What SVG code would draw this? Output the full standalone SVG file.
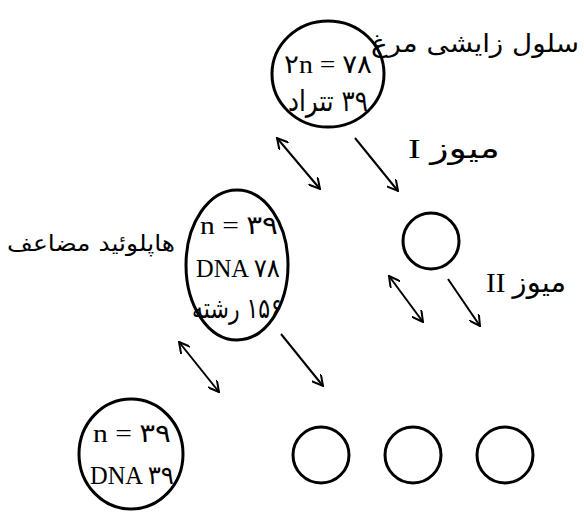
<svg xmlns="http://www.w3.org/2000/svg" width="584" height="512" viewBox="0 0 584 512">
<style>
.c{fill:none;stroke:#000;stroke-width:3}
.a{fill:none;stroke:#000;stroke-width:2}
.t{font-family:"Liberation Serif","DejaVu Sans",serif;font-size:26px;fill:#000}
.p{font-family:"DejaVu Sans",sans-serif;font-size:23px;fill:#000}
</style>
<defs>
<marker id="h" viewBox="0 0 12 12" refX="11" refY="6" markerWidth="12" markerHeight="12" markerUnits="userSpaceOnUse" orient="auto-start-reverse">
<path d="M0,0 L11,6 L0,12" fill="none" stroke="#000" stroke-width="2"/>
</marker>
</defs>
<rect width="584" height="512" fill="#fff"/>
<g id="connectors">
<line class="a" x1="277" y1="138" x2="320" y2="189" marker-start="url(#h)" marker-end="url(#h)"/>
<line class="a" x1="355" y1="138" x2="398" y2="191" marker-end="url(#h)"/>
<line class="a" x1="179" y1="342" x2="219" y2="392" marker-start="url(#h)" marker-end="url(#h)"/>
<line class="a" x1="281" y1="334" x2="323" y2="386" marker-end="url(#h)"/>
<line class="a" x1="389" y1="276" x2="423" y2="322" marker-start="url(#h)" marker-end="url(#h)"/>
<line class="a" x1="448" y1="279" x2="480" y2="326" marker-end="url(#h)"/>
</g>
<g id="zygote">
<ellipse class="c" cx="328" cy="74" rx="56" ry="53"/>
<text class="t" x="328" y="73" text-anchor="middle" textLength="88" lengthAdjust="spacingAndGlyphs">۲n = ۷۸</text>
<text class="p" x="328" y="111" text-anchor="middle" direction="rtl" textLength="80" lengthAdjust="spacingAndGlyphs" style="font-size:29px">۳۹ تتراد</text>
<text class="p" x="475" y="52" text-anchor="middle" textLength="208" lengthAdjust="spacingAndGlyphs" style="font-size:25px">سلول زایشی مرغ</text>
</g>
<g id="doubled-haploid">
<ellipse class="c" cx="237" cy="265" rx="51" ry="75"/>
<text class="t" x="239" y="234" text-anchor="middle" textLength="78" lengthAdjust="spacingAndGlyphs">n = ۳۹</text>
<text class="t" x="238" y="277" text-anchor="middle" textLength="84" lengthAdjust="spacingAndGlyphs">DNA ۷۸</text>
<text class="p" x="237" y="318" text-anchor="middle" direction="rtl" textLength="90" lengthAdjust="spacingAndGlyphs" style="font-size:28px">۱۵۶ رشته</text>
<text class="p" x="91" y="251" text-anchor="middle" textLength="168" lengthAdjust="spacingAndGlyphs" style="font-size:22px">هاپلوئید مضاعف</text>
</g>
<g id="meiosis1-label"><text class="t" x="454" y="158" text-anchor="middle" direction="rtl" textLength="92" lengthAdjust="spacingAndGlyphs" style="font-size:28px">میوز I</text></g>
<g id="cell2"><circle class="c" cx="431" cy="241" r="28"/></g>
<g id="meiosis2-label"><text class="t" x="526" y="292" text-anchor="middle" direction="rtl" textLength="80" lengthAdjust="spacingAndGlyphs" style="font-size:28px">میوز II</text></g>
<g id="haploid">
<ellipse class="c" cx="131" cy="454" rx="52" ry="55"/>
<text class="t" x="132" y="442" text-anchor="middle" textLength="78" lengthAdjust="spacingAndGlyphs">n = ۳۹</text>
<text class="t" x="132" y="484" text-anchor="middle" textLength="84" lengthAdjust="spacingAndGlyphs">DNA ۳۹</text>
</g>
<g id="cell3"><circle class="c" cx="321" cy="455" r="28"/></g>
<g id="cell4"><circle class="c" cx="413" cy="455" r="28"/></g>
<g id="cell5"><circle class="c" cx="505" cy="455" r="28"/></g>
</svg>
